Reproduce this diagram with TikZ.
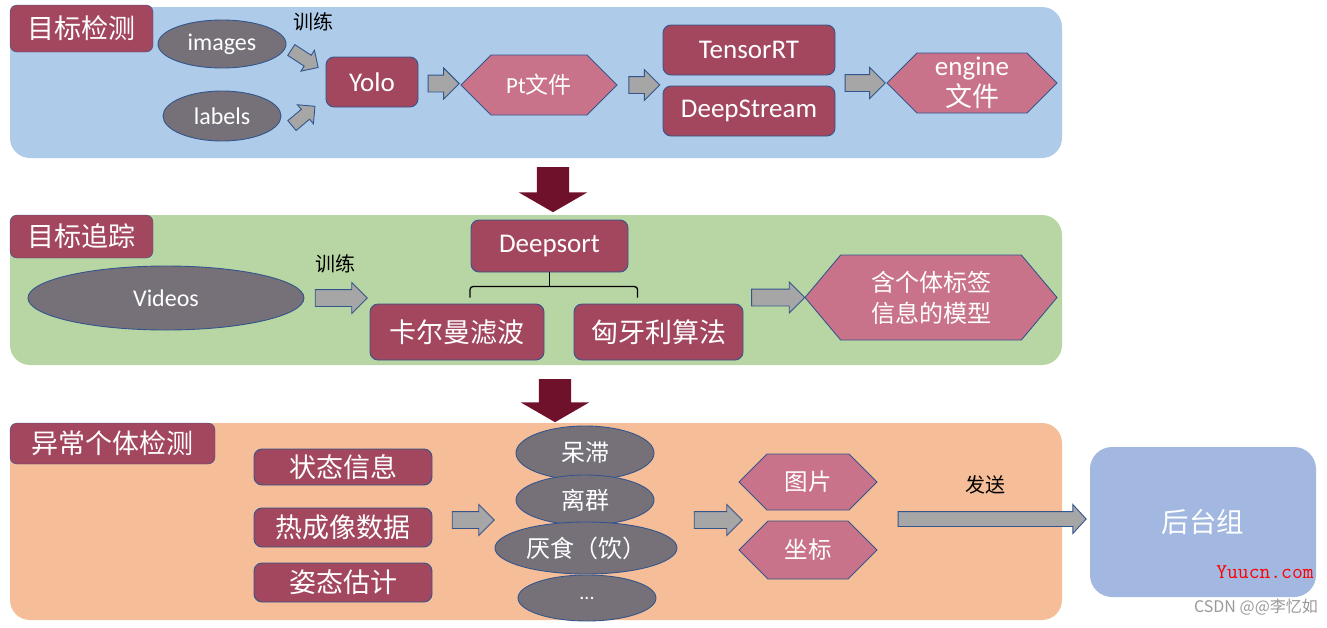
\documentclass[tikz,border=0pt]{standalone}
\usepackage{fontspec}
\setmainfont{Carlito}
\newfontfamily\cjk{Noto Sans CJK SC}
\usetikzlibrary{shapes.geometric, shapes.symbols, shapes.arrows, calc}

\definecolor{panelblue}{RGB}{174,203,233}
\definecolor{panelgreen}{RGB}{184,214,163}
\definecolor{panelorange}{RGB}{245,190,152}
\definecolor{boxred}{RGB}{163,71,95}
\definecolor{hexpink}{RGB}{201,115,138}
\definecolor{ovalgray}{RGB}{118,113,121}
\definecolor{edgeblue}{RGB}{52,85,140}
\definecolor{arrowgray}{RGB}{166,166,166}
\definecolor{darkarrow}{RGB}{112,17,43}
\definecolor{backblue}{RGB}{162,184,224}

\begin{document}
\begin{tikzpicture}[
    x=1pt, y=-1pt,
    panel/.style={rounded corners=20pt},
    titlebox/.style={draw=edgeblue, fill=boxred, rounded corners=7pt, text=white,
        inner sep=0pt, font=\cjk\fontsize{27}{30}\selectfont},
    rbox/.style={draw=edgeblue, line width=0.9pt, fill=boxred, rounded corners=8pt, text=white, inner sep=0pt},
    oval/.style={ellipse, draw=edgeblue, line width=0.9pt, fill=ovalgray, text=white, inner sep=0pt},
    hexa/.style={signal, signal to=east and west, signal pointer angle=90,
        draw=edgeblue, line width=0.9pt, fill=hexpink, text=white, inner sep=0pt},
    garrow/.style={single arrow, draw=edgeblue, line width=0.9pt, fill=arrowgray, inner xsep=0pt,
        inner ysep=8pt, single arrow head extend=7pt, minimum width=0pt},
    downarrow/.style={single arrow, fill=darkarrow, rotate=-90, inner xsep=0pt,
        inner ysep=16pt, single arrow head extend=18pt, single arrow tip angle=120,
        minimum width=0pt, minimum height=45pt},
    note/.style={font=\cjk\fontsize{20}{24}\selectfont},
    bracket/.style={line width=1.3pt, rounded corners=3pt}
]
\useasboundingbox (0,0) rectangle (1327,627);

% =========================
% PANELS
% =========================
\fill[panel, panelblue] (10,7) rectangle (1062,158);
\fill[panel, panelgreen] (10,215) rectangle (1062,365);
\fill[panel, panelorange] (10,423) rectangle (1062,620);

% =========================
% DETECTION
% =========================
\node[titlebox, minimum width=143pt, minimum height=47pt] (t1) at (81.5,28.5) {目标检测};

\node[oval, minimum width=128pt, minimum height=48pt, font=\fontsize{24}{28}\selectfont]
    (img) at (222,44) {images};
\node[oval, minimum width=118pt, minimum height=50pt, font=\fontsize{24}{28}\selectfont]
    (lab) at (222,116) {labels};
\node[note] (tr1) at (313,22) {训练};

\node[rbox, minimum width=92pt, minimum height=50pt, font=\fontsize{27}{30}\selectfont]
    (yolo) at (372,82) {Yolo};
\node[hexa, minimum width=156pt, minimum height=60pt, font=\fontsize{23}{26}\selectfont]
    (pt) at (539,85) {Pt{\cjk 文件}};

\node[rbox, minimum width=172pt, minimum height=50pt, font=\fontsize{27}{30}\selectfont]
    (trt) at (749,50) {TensorRT};
\node[rbox, minimum width=172pt, minimum height=50pt, font=\fontsize{27}{30}\selectfont]
    (dst) at (749,111) {DeepStream};
\node[hexa, minimum width=170pt, minimum height=60pt, align=center,
    font=\fontsize{27}{31}\selectfont] (eng) at (972,83) {engine\\{\cjk 文件}};

% block arrows
\node[garrow, inner ysep=6pt, single arrow head extend=6pt, minimum height=32pt, rotate=-33]
    (a0) at (302,57) {};
\node[garrow, inner ysep=6pt, single arrow head extend=6pt, minimum height=30pt, rotate=40]
    (a00) at (301,118) {};
\node[garrow, minimum height=31pt] (a1) at ($(yolo.east)!.5!(pt.west)$) {};
\node[garrow, minimum height=31pt] (a2) at ($(pt.east)!.5!(trt.west |- pt.east)$) {};
\node[garrow, minimum height=40pt] (a3) at ($(dst.east |- eng.west)!.5!(eng.west)$) {};

\node[downarrow] (d1) at (553,185) {};

% =========================
% TRACKING
% =========================
\node[titlebox, minimum width=143pt, minimum height=43pt] (t2) at (81.5,236.5) {目标追踪};

\node[oval, minimum width=276pt, minimum height=64pt, font=\fontsize{24}{28}\selectfont]
    (vid) at (166,298) {Videos};
\node[note] (tr2) at (335,264) {训练};

\node[rbox, minimum width=157pt, minimum height=52pt, font=\fontsize{27}{30}\selectfont]
    (ds) at (549.5,246) {Deepsort};
\node[rbox, minimum width=174pt, minimum height=56pt, font=\cjk\fontsize{27}{30}\selectfont]
    (kal) at (457,332) {卡尔曼滤波};
\node[rbox, minimum width=169pt, minimum height=56pt, font=\cjk\fontsize{27}{30}\selectfont]
    (hun) at (658.5,332) {匈牙利算法};
\node[hexa, signal pointer angle=100, minimum width=252pt, minimum height=85pt, align=center,
    font=\cjk\fontsize{24}{31}\selectfont] (mod) at (931,297.5) {含个体标签\\信息的模型};

% bracket
\coordinate (bl) at ($(kal.north)+(13,-6)$);
\coordinate (br) at ($(hun.north)+(-21,-6)$);
\draw[bracket] (bl) -- ++(0,-11) -| (br);
\draw[bracket] (ds.south) -- ++(0,15);

\node[garrow, minimum height=52pt] (a4) at ($(vid.east)!.5!(kal.west |- vid.east)$) {};
\node[garrow, minimum height=53pt] (a5) at ($(hun.east |- mod.west)!.5!(mod.west)$) {};

\node[downarrow, minimum height=43pt] (d2) at (555,396) {};

% =========================
% ABNORMAL DETECTION
% =========================
\node[titlebox, minimum width=205pt, minimum height=41pt] (t3) at (112.5,443.5) {异常个体检测};

\node[rbox, minimum width=178pt, minimum height=36pt, font=\cjk\fontsize{27}{30}\selectfont]
    (s1) at (343,467) {状态信息};
\node[rbox, minimum width=178pt, minimum height=39pt, font=\cjk\fontsize{27}{30}\selectfont]
    (s2) at (343,527.5) {热成像数据};
\node[rbox, minimum width=178pt, minimum height=39pt, font=\cjk\fontsize{27}{30}\selectfont]
    (s3) at (343,582.5) {姿态估计};

\node[oval, minimum width=138pt, minimum height=54pt, font=\cjk\fontsize{24}{28}\selectfont]
    (e1) at (585,453) {呆滞};
\node[oval, minimum width=138pt, minimum height=50pt, font=\cjk\fontsize{24}{28}\selectfont]
    (e2) at (585,500) {离群};
\node[oval, minimum width=182pt, minimum height=52pt, font=\cjk\fontsize{24}{28}\selectfont]
    (e3) at (586,548) {厌食（饮）};
\node[oval, minimum width=138pt, minimum height=46pt, font=\fontsize{20}{24}\selectfont]
    (e4) at (587,598) {...};

\node[hexa, minimum width=138pt, minimum height=56pt, font=\cjk\fontsize{23.5}{27}\selectfont]
    (p1) at (808,482) {图片};
\node[hexa, minimum width=138pt, minimum height=58pt, font=\cjk\fontsize{23.5}{27}\selectfont]
    (p2) at (808,550) {坐标};

\node[garrow, minimum height=42pt] (a6) at (469,520) {};
\node[garrow, minimum height=48pt] (a7) at (714,520) {};

% =========================
% BACKEND
% =========================
\node[fill=backblue, rounded corners=22pt, minimum width=226pt, minimum height=150pt,
    inner sep=0pt, text=white, font=\cjk\fontsize{27.5}{30}\selectfont] (bk) at (1203,522) {后台组};
\node[note] (fs) at (985,485) {发送};
\node[garrow, inner ysep=7pt, single arrow head extend=7pt, single arrow tip angle=95,
    minimum height=188pt] (a8) at ($(p1.east |- bk.west)!.5!(bk.west)+(5,-3)$) {};

% watermarks
\node[text=red, font=\ttfamily\fontsize{21}{24}\selectfont] (wm1) at (1265,572) {Yuucn.com};
\node[text=black!40, font=\cjk\fontsize{16}{18}\selectfont] (wm2) at (1256,607) {CSDN @@李忆如};
\end{tikzpicture}
\end{document}
